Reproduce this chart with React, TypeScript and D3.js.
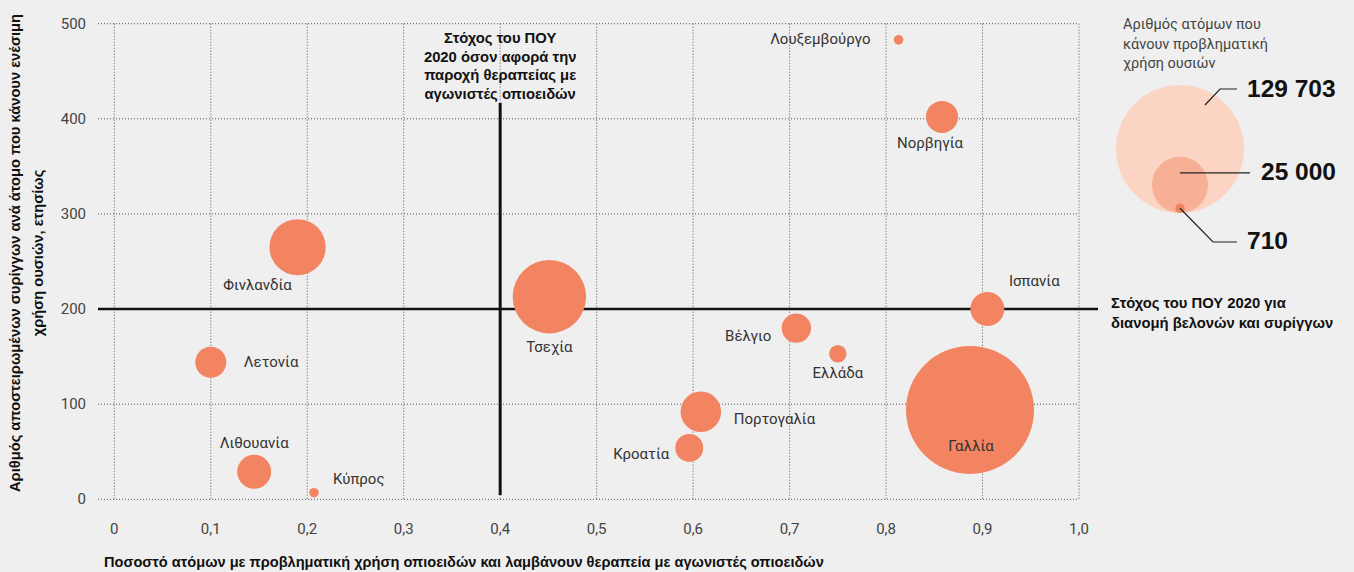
import React from "react";
import * as d3 from "d3";

// Χώρες και τιμές (εκτίμηση από το γράφημα)
const countries = [
  "Λουξεμβούργο", "Νορβηγία", "Φινλανδία", "Τσεχία", "Ισπανία", "Λετονία",
  "Βέλγιο", "Ελλάδα", "Πορτογαλία", "Γαλλία", "Κροατία", "Λιθουανία", "Κύπρος",
];
const treatmentShare = [0.813, 0.858, 0.19, 0.451, 0.905, 0.1, 0.707, 0.75, 0.608, 0.887, 0.596, 0.145, 0.207];
const syringesPerUser = [483, 402, 265, 213, 200, 144, 180, 153, 92, 94, 54, 29, 7];
const problemUsers = [750, 8100, 25000, 42700, 9150, 7600, 6850, 2400, 13000, 129703, 6200, 9150, 710];

// θέσεις ετικετών: [dx, dy, anchor]
const labelPos: [number, number, string][] = [
  [-28, 4, "end"], [-12, 31, "middle"], [-40, 43, "middle"], [0, 55, "middle"],
  [47, -23, "middle"], [33, 5, "start"], [-25, 13, "end"], [0, 24, "middle"],
  [33, 12, "start"], [1, 41, "middle"], [-20, 11, "end"], [0, -24, "middle"],
  [19, -9, "start"],
];

const xTicks = [0, 0.1, 0.2, 0.3, 0.4, 0.5, 0.6, 0.7, 0.8, 0.9, 1.0];
const xTickLabels = ["0", "0,1", "0,2", "0,3", "0,4", "0,5", "0,6", "0,7", "0,8", "0,9", "1,0"];
const yTicks = [0, 100, 200, 300, 400, 500];

const legendValues = [129703, 25000, 710];
const legendLabels = ["129 703", "25 000", "710"];
const legendColors = ["#fcd4c3", "#f7b096", "#f1825f"];

const targetX = 0.4;
const targetY = 200;

const W = 1354;
const H = 572;

export default function App() {
  const x = d3.scaleLinear().domain([0, 1]).range([114.3, 1079]);
  const y = d3.scaleLinear().domain([0, 500]).range([499.3, 23.7]);
  const r = d3.scaleSqrt().domain([0, 129703]).range([0, 64]);

  const bold = "'Liberation Sans', Arial, sans-serif";
  const light = "Roboto, 'Noto Sans', sans-serif";

  // λεζάντα
  const lcx = 1180;
  const lbottom = 213;

  const order = d3.range(countries.length).sort((a, b) => problemUsers[b] - problemUsers[a]);

  return (
    <svg width={W} height={H} style={{ position: "absolute", left: 0, top: 0 }}>
      <rect width={W} height={H} fill="#efefef" />

      {/* πλέγμα */}
      {xTicks.map((t) => (
        <line key={"gx" + t} x1={x(t)} x2={x(t)} y1={y(500)} y2={y(0)}
          stroke="#555" strokeWidth={1} strokeDasharray="1,2" />
      ))}
      {yTicks.map((t) => (
        <line key={"gy" + t} x1={98} x2={x(1)} y1={y(t)} y2={y(t)}
          stroke="#555" strokeWidth={1} strokeDasharray="1,2" />
      ))}

      {/* άξονες */}
      {xTicks.map((t, i) => (
        <text key={"tx" + t} x={x(t)} y={534} textAnchor="middle"
          fontFamily={light} fontSize={15} fill="#444">{xTickLabels[i]}</text>
      ))}
      {yTicks.map((t) => (
        <text key={"ty" + t} x={86} y={y(t) + 5} textAnchor="end"
          fontFamily={light} fontSize={15} fill="#444">{t}</text>
      ))}

      {/* στόχοι ΠΟΥ */}
      <line x1={98} x2={1098} y1={y(targetY)} y2={y(targetY)} stroke="#111" strokeWidth={2.5} />
      <line x1={x(targetX)} x2={x(targetX)} y1={103} y2={495} stroke="#111" strokeWidth={3} />

      {/* φυσαλίδες */}
      {order.map((i) => (
        <circle key={countries[i]} cx={x(treatmentShare[i])} cy={y(syringesPerUser[i])}
          r={r(problemUsers[i])} fill="#f28462" />
      ))}
      {countries.map((c, i) => {
        const [dx, dy, anchor] = labelPos[i];
        return (
          <text key={"l" + c} x={x(treatmentShare[i]) + dx} y={y(syringesPerUser[i]) + dy}
            textAnchor={anchor as any} fontFamily={light} fontSize={15} fill="#333">{c}</text>
        );
      })}

      {/* ετικέτες στόχων */}
      <text fontFamily={bold} fontWeight="bold" fontSize={14.8} fill="#111" textAnchor="middle">
        {["Στόχος του ΠΟΥ", "2020 όσον αφορά την", "παροχή θεραπείας με", "αγωνιστές οπιοειδών"].map((s, i) => (
          <tspan key={s} x={x(targetX)} y={43 + i * 18.5}>{s}</tspan>
        ))}
      </text>
      <text fontFamily={bold} fontWeight="bold" fontSize={14.8} fill="#111">
        {["Στόχος του ΠΟΥ 2020 για", "διανομή βελονών και συρίγγων"].map((s, i) => (
          <tspan key={s} x={1111} y={308 + i * 20}>{s}</tspan>
        ))}
      </text>

      {/* τίτλοι αξόνων */}
      <text fontFamily={bold} fontWeight="bold" fontSize={14.7} fill="#111" textAnchor="middle"
        transform={`translate(0,253) rotate(-90)`}>
        <tspan x={0} y={20}>Αριθμός αποστειρωμένων συρίγγων ανά άτομο που κάνουν ενέσιμη</tspan>
        <tspan x={0} y={43}>χρήση ουσιών, ετησίως</tspan>
      </text>
      <text x={104} y={567} fontFamily={bold} fontWeight="bold" fontSize={14.6} fill="#111">
        Ποσοστό ατόμων με προβληματική χρήση οπιοειδών και λαμβάνουν θεραπεία με αγωνιστές οπιοειδών
      </text>

      {/* λεζάντα μεγέθους */}
      <text fontFamily={light} fontSize={14.5} fill="#444">
        {["Αριθμός ατόμων που", "κάνουν προβληματική", "χρήση ουσιών"].map((s, i) => (
          <tspan key={s} x={1123} y={29 + i * 19.5}>{s}</tspan>
        ))}
      </text>
      {legendValues.map((v, i) => (
        <circle key={"lc" + v} cx={lcx} cy={lbottom - r(v)} r={r(v)} fill={legendColors[i]} />
      ))}
      <polyline points={`1205,105 1220,89 1237,89`} fill="none" stroke="#222" strokeWidth={1.2} />
      <line x1={lcx} x2={1250} y1={lbottom - r(25000) - 12} y2={lbottom - r(25000) - 12} stroke="#222" strokeWidth={1.2} />
      <polyline points={`${lcx},${lbottom - r(710)} 1213,242 1237,242`} fill="none" stroke="#222" strokeWidth={1.2} />
      {legendLabels.map((s, i) => (
        <text key={s} x={i === 1 ? 1261 : 1247} y={[97, 180, 249][i]}
          fontFamily={bold} fontWeight="bold" fontSize={24.5} fill="#111">{s}</text>
      ))}
    </svg>
  );
}
